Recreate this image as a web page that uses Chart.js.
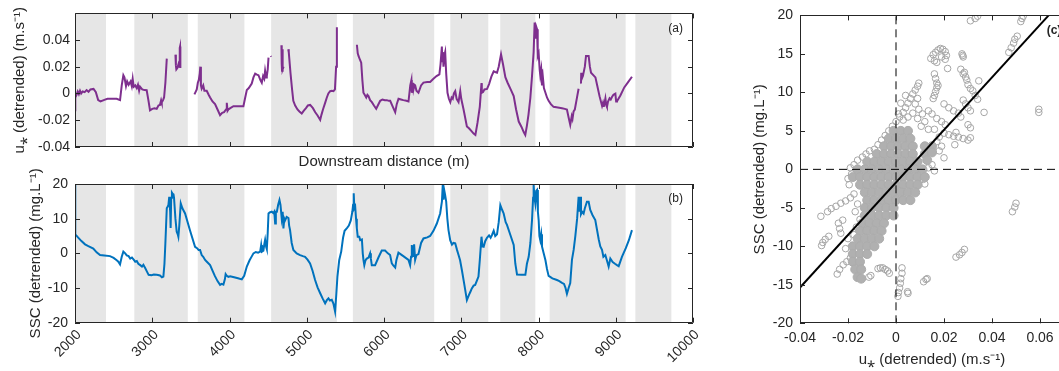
<!DOCTYPE html>
<html>
<head>
<meta charset="utf-8">
<script src="https://cdn.jsdelivr.net/npm/chart.js@4"></script>
<style>
  html, body { margin: 0; padding: 0; background: #fff; overflow: hidden; width: 1059px; height: 371px; }
  canvas { position: absolute; }
</style>
</head>
<body>
<canvas id="chartA" width="720" height="175" style="left:0;top:0"></canvas>
<canvas id="chartB" width="720" height="206" style="left:0;top:165px"></canvas>
<canvas id="chartC" width="330" height="371" style="left:740px;top:0"></canvas>
<script>
// shaded reaches along the river (m)
const bandStart = [2000, 2768, 3589, 4539, 5597, 6858, 7505, 8144, 9254];
const bandEnd   = [2401, 3460, 4193, 5390, 6650, 7350, 7959, 9128, 9720];

const distTicks = [2000, 3000, 4000, 5000, 6000, 7000, 8000, 9000, 10000];
const uTicks = [-0.04, -0.02, 0, 0.02, 0.04];
const sscTicks = [-20, -10, 0, 10, 20];
const scatXTicks = [-0.04, -0.02, 0, 0.02, 0.04, 0.06];
const scatYTicks = [-20, -15, -10, -5, 0, 5, 10, 15, 20];

// (a) u* detrended, null = gap in record
const distA = [2000,2004,2020,2035,2050,2065,2080,2100,2125,2150,2175,2200,2240,2270,2300,2330,2380,2420,2480,2540,2583,2605,2626,2640,2660,2675,2694,2720,2735,2747,2760,2780,2799,2815,2830,2842,2870,2900,2928,2950,2971,3000,3030,3058,3080,3100,3115,3123,3140,3153,3170,3188,3195,
  3300,3306,3312,3325,3340,3350,3356,3360,3364,3370,
  3546,3560,3576,3590,3602,3615,3622,3630,3640,3660,3675,3705,3730,3749,3780,3813,3845,3878,3905,3930,3955,3965,3975,3986,4010,4051,4120,4180,4200,4224,4250,4288,4310,4332,4355,4375,4400,4418,4435,4450,4461,4475,4483,4495,4505,4510,
  4535,4540,4545,
  4672,4676,4680,4686,4690,4700,4720,
  4760,4767,4790,4810,4826,4850,4880,4905,4935,4960,4990,5015,5044,5080,5110,5140,5174,5190,5210,5238,5260,5280,5303,5325,5346,5365,5380,5390,5395,
  5649,5660,5670,5690,5705,5720,5734,5750,5770,5785,5799,5820,5843,5870,5899,5920,5951,5980,6010,6037,6060,6080,6110,6145,6165,6188,6220,6250,6290,6317,6340,6355,6360,6375,6382,6395,6403,6420,6446,6480,6511,6560,6597,6640,6680,6717,6732,6749,6755,6762,6770,6780,6792,6805,6822,6840,6858,6875,6890,6905,6922,6940,6965,6987,7000,7030,7073,7100,7130,7160,7183,7210,7240,7262,7266,7282,7300,7334,7360,7390,7420,7440,7463,7485,7515,7540,7571,7600,7640,7679,7710,7744,7780,7810,7829,7850,7870,7894,7915,7937,7950,7960,7970,7981,7990,8002,8015,8023,8035,8045,8057,8070,8090,8110,8131,8160,8195,8250,8304,8340,8368,8390,8411,8430,8440,8454,8470,8495,8519,8525,
  8550,8553,8557,8575,8600,8615,8649,8665,8680,8737,8760,8790,8823,8835,8845,8866,8878,8886,8900,8920,8935,8951,8970,8995,9005,9016,9060,9110,9160,9210];
const uStar = [-0.0125,-0.003,-0.001,0.0015,-0.0005,0.002,0,0.0015,0.001,0.0025,0.0012,0.003,0.0034,0.001,-0.005,-0.006,-0.0048,-0.004,-0.004,-0.004,-0.005,0.006,0.0136,0.012,0.0055,0.009,0.0065,0.009,0.0055,0.011,0.005,0.006,0.004,0.0065,0.002,0.005,0.003,0.0025,0.0024,-0.005,-0.0126,-0.0115,-0.011,-0.0115,-0.009,-0.0085,-0.005,-0.0067,-0.005,-0.003,0.008,0.026,null,
  0.029,0.021,0.018,0.019,0.022,0.02,0.034,0.035,0.019,null,
  -0.0007,0.001,0.003,0.008,0.01,0.015,0.02,0.006,0.0035,0.006,0.002,0.002,-0.001,-0.003,-0.006,-0.008,-0.012,-0.0162,-0.0145,-0.014,-0.012,-0.007,-0.013,-0.012,-0.011,-0.0095,-0.0095,-0.0095,-0.004,0.0026,0.004,0.0074,0.012,0.0148,0.014,0.0136,0.01,0.008,0.013,0.011,0.017,0.012,0.013,0.018,0.0268,null,
  0.028,0.0275,null,
  0.036,0.022,0.017,0.033,0.018,0.02,null,
  0.033,0.031,0.015,0.003,-0.0055,-0.009,-0.012,-0.0135,-0.015,-0.013,-0.011,-0.009,-0.0086,-0.011,-0.014,-0.0165,-0.0198,-0.016,-0.012,-0.007,-0.003,0,0.0017,0.002,0.0017,0.003,0.02,0.0495,null,
  0.0364,0.03,0.028,0.025,0.023,0.01,0.0005,-0.001,-0.003,-0.001,-0.002,-0.005,-0.0065,-0.009,-0.0115,-0.009,-0.0055,-0.0045,-0.005,-0.005,-0.0055,-0.0055,-0.0095,-0.014,-0.008,-0.004,-0.0045,-0.005,-0.0055,-0.006,0.006,0.01,0.0005,0.008,0.003,0.0064,0.006,0.002,0.0005,0.006,0.0081,0.0085,0.0086,0.011,0.013,0.0143,0.022,0.035,0.024,0.031,0.02,0.028,0.031,0.015,0.0005,-0.004,-0.0065,-0.003,-0.004,0,0.0017,-0.004,-0.0065,0.0017,-0.004,-0.012,-0.0246,-0.026,-0.028,-0.03,-0.031,-0.022,-0.01,0.0077,0.0005,0.001,0.003,0.0034,0.007,0.0125,0.0165,0.016,0.0155,0.02,0.0292,0.022,0.0122,0.008,0.003,-0.002,-0.012,-0.021,-0.025,-0.029,-0.031,-0.024,-0.016,-0.0036,0.0122,0.031,0.053,0.041,0.05,0.048,0.028,0.03,0.018,0.0135,0.018,0.006,0.012,0.004,0.0005,-0.003,-0.0055,-0.008,-0.01,-0.0105,-0.011,-0.0115,-0.012,-0.018,-0.0234,-0.017,-0.019,-0.0134,-0.012,-0.004,0.0035,null,
  0.0075,0.0155,0.0105,0.013,0.02,0.028,0.028,0.02,0.0155,0.012,0.006,-0.002,-0.0094,-0.007,-0.01,-0.0036,-0.009,-0.0101,-0.006,-0.0036,-0.0045,-0.0027,-0.001,-0.0002,-0.006,-0.0058,-0.0015,0.0045,0.0085,0.0125];

// (b) SSC detrended (mg/L)
const distB = [2000,2002,2005,2030,2080,2130,2173,2237,2280,2324,2380,2453,2500,2540,2561,2583,2605,2626,2650,2670,2694,2715,2737,2760,2780,2800,2820,2845,2867,2885,2910,2930,2953,2990,3020,3058,3100,3125,3144,3158,3170,3188,3200,3209,3220,3232,3238,3245,3255,3264,3275,3282,3300,3316,3330,3338,3350,3369,3390,3425,3490,3554,3580,3600,3619,3640,3660,3684,3710,3749,3780,3810,3845,3878,3900,3921,3940,3950,3965,3985,4008,4060,4110,4159,4190,4224,4260,4290,4310,4340,4370,4397,4410,4420,4439,4450,4461,4475,4483,4495,4505,4520,4547,4569,4580,4591,4600,4613,4630,4647,4660,4676,4688,4698,4710,4720,4740,4763,4772,4784,4805,4827,4870,4913,4950,4978,5010,5043,5075,5108,5140,5174,5205,5238,5260,5281,5300,5324,5345,5367,5382,5397,5420,5446,5470,5490,5520,5545,5570,5590,5600,5608,5616,5627,5638,5648,5660,5680,5692,5714,5725,5734,5745,5760,5777,5800,5820,5830,5842,5885,5928,5971,6014,6050,6079,6101,6120,6145,6160,6187,6250,6317,6338,6350,6360,6375,6390,6403,6420,6446,6480,6511,6560,6597,6640,6684,6727,6750,6761,6770,6779,6790,6805,6820,6835,6857,6880,6900,6922,6945,6965,6985,7008,7040,7073,7100,7120,7137,7160,7180,7200,7223,7240,7262,7275,7290,7310,7333,7360,7380,7398,7420,7440,7463,7485,7506,7530,7549,7575,7592,7636,7679,7700,7722,7780,7830,7850,7873,7895,7916,7930,7937,7948,7959,7970,7981,7992,8002,8012,8023,8035,8045,8067,8090,8110,8131,8180,8239,8270,8304,8330,8350,8368,8390,8411,8433,8455,8476,8500,8519,8530,8541,8550,8565,8584,8600,8627,8649,8670,8700,8735,8780,8800,8822,8840,8865,8885,8908,8930,8960,8990,9016,9038,9080,9130,9170,9210];
const ssc = [20,12,5.5,4.8,3.6,2.6,2.1,1.4,0.3,-0.5,-0.6,-0.8,-1.3,-2,-2.4,-3.2,-1,0.5,0,-0.6,-0.8,-1.5,-1.2,-1.8,-2.4,-2.2,-3,-3.4,-3.8,-3.3,-4.3,-5.2,-6.2,-6.3,-6.1,-6.2,-6.4,-6.9,-6.7,-3,3,13,13.5,13.9,16.3,12,7.3,16,17.5,17.2,17,16,10,6.3,5.5,4.8,8,14.4,13,11.5,6.5,1.9,1.5,1,1,-0.5,-1,-1.9,-2.5,-3.4,-5,-6.5,-8,-9.1,-8.8,-9,-7.5,-6,-6.5,-6.8,-6.6,-6.9,-7.2,-7.5,-6.5,-3.8,-2,-0.8,0,0.4,0.2,0.5,2.4,0.5,0.8,2.6,3.9,1.8,1.2,6,11.5,11.8,12,11.6,12,8.6,12,12,14,15.4,14,10.1,12,7.2,10,9.5,10.5,10.2,8,6.7,3,1,0,-0.5,-0.8,-1,-1.8,-2.9,-5,-7.7,-9.8,-11.5,-13,-14.4,-13.5,-13,-13.6,-13.4,-14.5,-16.8,-12,-6.7,-2,0.5,4.5,6.5,7.3,8,9.5,12,14,17.3,13,13.5,10,7.3,4.8,4.8,3.8,4,0,-1.9,-3.4,-2,-1.5,-1.2,0,-1.5,-3.4,-3.4,-1.2,0.8,0.8,0,-0.5,-2.9,-3.5,-4.1,-2,0.2,-0.8,-1.9,-3.4,-1,2.4,-1,2.6,-1.9,-0.5,-0.2,3,4.3,4.6,5,6.5,8.6,11.5,15,20,15.5,18.3,17,14.9,10,6.7,3.8,2.5,3,2.9,1,-0.5,-2,-4.8,-9,-13.5,-12,-11,-10.1,-9.3,-9.1,-8,-6.7,-2,4.8,2,1.9,3.5,4.5,5.2,4.5,5.3,6.5,5,5.5,9,13.9,12.5,11.5,9,8.2,5.3,2.4,-3,-6.1,-6.2,-6.2,-3,-1,3,9.6,16,19.7,16,14.4,18,18.3,12,9.6,5,3.8,5.5,2,0,-2,-4.5,-6.5,-7.2,-7.7,-8,-8.5,-8.8,-10,-11.7,-10,-8.6,-1.9,1,4.8,10,16.3,12,16.3,11.3,12,11.5,13,14.9,14.9,12.5,11,9.6,4,2,1,-1,-0.5,-2,-3.8,-1.5,-2.5,-3,-3.4,-3.7,-1,1.5,3.8,6.7];

// (c) u* vs SSC: open markers, plus the saturated core of overlapping markers
const ringPts = [
  [0.031,19.3],[0.033,19.6],[0.034,19.9],[0.052,19.2],[0.0525,19.6],[0.053,19.9],
  [0.047,15.2],[0.048,15.8],[0.049,16.4],[0.0495,16.9],[0.0505,17.3],[0.0595,7.4],[0.0595,7.8],
  [0.0145,14.4],[0.0155,14.9],[0.0165,15.2],[0.0175,15.5],[0.0185,15.7],[0.0195,15.6],[0.0205,15.3],[0.021,14.8],[0.0205,14.3],[0.019,14.6],[0.017,13.9],[0.016,14.1],[0.0215,13.1],
  [0.0275,15],[0.0278,14.8],[0.028,14.6],
  [0.027,13],[0.028,12.4],[0.029,12],[0.0295,11.6],[0.03,11],[0.031,10.5],[0.032,10.2],[0.0285,12.6],[0.0345,11.5],
  [0.016,12.4],[0.0165,11.8],[0.017,11.2],[0.017,10.6],[0.0165,10.1],[0.016,9.6],[0.0155,9.2],[0.0175,10.9],
  [-0.009,2.6],[-0.0075,3.2],[-0.006,3.8],[-0.0045,4.4],[-0.003,5],[-0.0015,5.6],[0,6.2],[0.0015,6.8],[0.003,7.4],[0.004,8],[0.005,8.6],[0.006,9.2],[0.007,9.8],[0.008,10.3],[0.009,10.8],[0.0095,11.2],
  [0.008,8.5],[0.009,9.2],[0.0095,7.8],[0.002,8.6],[0.004,9.6],
  [0.001,7.2],[0.003,6.4],[0.005,6.8],[0.007,7.3],[0.009,6.6],[0.011,7.2],[0.012,6.2],[0.0135,7.6],[0.015,7.2],[0.017,6.6],[0.019,6.2],[0.0205,5.8],[0.0105,5.6],[0.0135,5.2],[0.016,5.2],[0.018,4.2],
  [0.028,9],[0.029,8.5],[0.03,8],[0.031,7.6],[0.033,9.6],[0.034,9.1],[0.0367,7.4],[0.02,8.5],[0.022,8],[0.024,7.6],[0.026,7.3],[0.027,6.8],
  [0.02,4.7],[0.022,4.5],[0.024,4.3],[0.026,4.2],[0.028,4],[0.03,3.8],[0.031,4.1],[0.025,4.8],[0.0245,3.2],
  [0.03,5.8],[0.031,5.4],[0.02,1.5],[0.018,2.4],[0.017,3.6],[0.019,3],
  [-0.019,0.2],[-0.0175,0.6],[-0.016,1.2],[-0.014,1.6],[-0.0125,2],[-0.011,2.4],[-0.0185,-0.6],[-0.02,-1.2],[-0.0195,-2],
  [-0.0313,-6.1],[-0.031,-9.9],[-0.0305,-9.5],[-0.0295,-9.1],[-0.028,-8.7],
  [-0.0285,-5.5],[-0.027,-5.1],[-0.025,-4.8],[-0.023,-4.4],[-0.021,-4.1],[-0.019,-3.7],[-0.0175,-3.2],
  [-0.024,-7],[-0.0235,-7.7],[-0.023,-8.3],[-0.0222,-6.6],
  [-0.0245,-13.6],[-0.0235,-13],[-0.022,-12.4],[-0.0205,-12],[-0.019,-11.5],[-0.021,-10.3],
  [-0.0145,-14.2],[-0.0113,-14],[-0.0105,-13.8],
  [-0.0075,-12.9],[-0.0065,-12.8],[-0.0055,-12.8],[-0.0045,-13],[-0.0035,-13.2],[-0.0028,-13.5],
  [0.0025,-12.8],[0.0025,-13.5],[0.002,-14.2],[0.0018,-14.8],[0.0015,-15.4],[0.001,-16],[0.0008,-16.5],
  [0.0048,-15.9],[0.005,-16.1],[0.0115,-14.6],[0.0125,-14.3],[0.013,-14.2],
  [0.025,-11.4],[0.0265,-11.1],[0.0275,-10.8],[0.0285,-10.4],
  [0.0485,-5.5],[0.0495,-4.9],[0.05,-4.4],
  [0.0114,-1.3],[0.012,-1.9],[0.0135,0.2],[0.015,0.6],[0.016,-0.2],
  [-0.016,-4.5],[-0.017,-5.5],[-0.015,-6.5],[-0.0165,-7.5],[-0.0175,-8.5],[-0.02,-9],[-0.0165,-12.8]
];
const corePts = [
  [-0.001,5],[0.002,5],[0.005,5],
  [-0.003,4],[0,4],[0.003,4],[0.006,4],
  [-0.005,3],[-0.002,3],[0.001,3],[0.004,3],[0.007,3],[0.012,3],[0.015,3],
  [-0.008,2],[-0.005,2],[-0.002,2],[0.001,2],[0.004,2],[0.007,2],[0.012,2],[0.015,2.2],
  [-0.012,1],[-0.009,1],[-0.006,1],[-0.003,1],[0,1],[0.003,1],[0.006,1],[0.009,1],[0.013,1.2],
  [-0.016,0],[-0.013,0],[-0.01,0],[-0.007,0],[-0.004,0],[-0.001,0],[0.002,0],[0.005,0],[0.008,0],[0.011,0],
  [-0.018,-1],[-0.015,-1],[-0.012,-1],[-0.009,-1],[-0.006,-1],[-0.003,-1],[0,-1],[0.003,-1],[0.006,-1],[0.009,-1],[0.012,-1],
  [-0.015,-2],[-0.012,-2],[-0.009,-2],[-0.006,-2],[-0.003,-2],[0,-2],[0.003,-2],[0.006,-2],[0.009,-2],
  [-0.013,-3],[-0.01,-3],[-0.007,-3],[-0.004,-3],[-0.001,-3],[0.002,-3],[0.005,-3],[0.008,-3],
  [-0.012,-4],[-0.009,-4],[-0.006,-4],[-0.003,-4],[0,-4],[0.003,-4],[0.006,-4],
  [-0.013,-5],[-0.01,-5],[-0.007,-5],[-0.004,-5],[-0.001,-5],
  [-0.013,-6],[-0.01,-6],[-0.007,-6],[-0.004,-6],[-0.001,-6],
  [-0.014,-7],[-0.011,-7],[-0.008,-7],[-0.005,-7],
  [-0.015,-8],[-0.012,-8],[-0.009,-8],[-0.006,-8],
  [-0.016,-9],[-0.013,-9],[-0.01,-9],[-0.007,-9],
  [-0.018,-10],[-0.015,-10],[-0.012,-10],[-0.009,-10],
  [-0.018,-11],[-0.015,-11],[-0.012,-11],
  [-0.018,-12],[-0.015,-12],
  [-0.017,-13],[-0.0145,-13],
  [-0.016,-14],[-0.0145,-14.2]
];
// least-squares fit line end points
const fitX = [-0.04, 0.0636];
const fitY = [-15.35, 20];

const AXIS = '#262626';
const FONT = '"Liberation Sans", Arial, Helvetica, sans-serif';
Chart.defaults.font.family = FONT;
Chart.defaults.color = AXIS;

const toXY = (xs, ys) => xs.map((x, i) => ({ x: x, y: ys[i] }));
const setTicks = vals => scale => { scale.ticks = vals.map(v => ({ value: v })); };
const fmt2 = v => (v === 0 ? '0' : v.toFixed(2));
const plain = v => String(v);

// shaded bands behind the lines
const bandPlugin = {
  id: 'bands',
  beforeDatasetsDraw(chart, args, opts) {
    if (!opts.on) return;
    const { ctx, chartArea: a, scales: { x } } = chart;
    ctx.save();
    ctx.fillStyle = '#e6e6e6';
    bandStart.forEach((s, i) => {
      const x0 = Math.max(a.left, x.getPixelForValue(s));
      const x1 = Math.min(a.right, x.getPixelForValue(bandEnd[i]));
      ctx.fillRect(x0, a.top, x1 - x0, a.height);
    });
    ctx.restore();
  }
};

// matlab style box with inward ticks, plus the panel letter
const boxPlugin = {
  id: 'box',
  afterDatasetsDraw(chart, args, opts) {
    const { ctx, chartArea: a, scales: { x, y } } = chart;
    ctx.save();
    ctx.strokeStyle = AXIS;
    ctx.lineWidth = 1;
    ctx.beginPath();
    x.ticks.forEach(t => {
      const px = Math.round(x.getPixelForValue(t.value)) + 0.5;
      ctx.moveTo(px, a.bottom); ctx.lineTo(px, a.bottom - 5);
      ctx.moveTo(px, a.top); ctx.lineTo(px, a.top + 5);
    });
    y.ticks.forEach(t => {
      const py = Math.round(y.getPixelForValue(t.value)) + 0.5;
      ctx.moveTo(a.left, py); ctx.lineTo(a.left + 5, py);
      ctx.moveTo(a.right, py); ctx.lineTo(a.right - 5, py);
    });
    ctx.rect(Math.round(a.left) + 0.5, Math.round(a.top) + 0.5, Math.round(a.width) - 1, Math.round(a.height) - 1);
    ctx.stroke();
    if (opts.label) {
      ctx.fillStyle = AXIS;
      ctx.font = (opts.bold ? 'bold ' : '') + '12px ' + FONT;
      ctx.textBaseline = 'middle';
      ctx.fillText(opts.label, a.right - opts.dx, a.top + opts.dy);
    }
    ctx.restore();
  }
};

Chart.register(bandPlugin, boxPlugin);

const tickFont = { size: 14 };
const titleFont = { size: 15 };

// (a)
new Chart(document.getElementById('chartA'), {
  type: 'line',
  data: {
    datasets: [{
      data: toXY(distA, uStar),
      borderColor: 'rgb(126,47,142)', borderWidth: 2, pointRadius: 0, spanGaps: false, tension: 0
    }]
  },
  options: {
    responsive: false, animation: false,
    layout: { padding: { top: 7.5, right: 27, left: 0, bottom: 0 } },
    plugins: { legend: { display: false }, tooltip: { enabled: false },
      bands: { on: true }, box: { label: '(a)', dx: 24.7, dy: 15 } },
    scales: {
      x: {
        type: 'linear', min: 2000, max: 10000,
        afterBuildTicks: setTicks(distTicks),
        afterFit: s => { s.height = 28; },
        grid: { display: false, drawTicks: false }, border: { display: false },
        ticks: { display: false },
        title: { display: true, text: 'Downstream distance (m)', font: titleFont, padding: { top: 0, bottom: 4 } }
      },
      y: {
        min: -0.04, max: 0.0598,
        afterBuildTicks: setTicks(uTicks),
        afterFit: s => { s.width = 75; },
        grid: { display: false, drawTicks: false }, border: { display: false },
        ticks: { font: tickFont, padding: 5, callback: fmt2 },
        title: { display: true, text: 'u⁎ (detrended) (m.s⁻¹)', font: titleFont, padding: { top: 11, bottom: 0 } }
      }
    }
  }
});

// (b)
new Chart(document.getElementById('chartB'), {
  type: 'line',
  data: {
    datasets: [{
      data: toXY(distB, ssc),
      borderColor: 'rgb(0,114,189)', borderWidth: 2, pointRadius: 0, tension: 0
    }]
  },
  options: {
    responsive: false, animation: false,
    layout: { padding: { top: 19, right: 27, left: 0, bottom: 0 } },
    plugins: { legend: { display: false }, tooltip: { enabled: false },
      bands: { on: true }, box: { label: '(b)', dx: 24.7, dy: 14.3 } },
    scales: {
      x: {
        type: 'linear', min: 2000, max: 10000,
        afterBuildTicks: setTicks(distTicks),
        afterFit: s => { s.height = 48.3; },
        grid: { display: false, drawTicks: false }, border: { display: false },
        ticks: { font: tickFont, padding: 4, labelOffset: 4, autoSkip: false, minRotation: 45, maxRotation: 45, callback: plain }
      },
      y: {
        min: -20, max: 20,
        afterBuildTicks: setTicks(sscTicks),
        afterFit: s => { s.width = 75; },
        grid: { display: false, drawTicks: false }, border: { display: false },
        ticks: { font: tickFont, padding: 7, callback: plain },
        title: { display: true, text: 'SSC (detrended) (mg.L⁻¹)', font: titleFont, padding: { top: 27, bottom: 0 } }
      }
    }
  }
});

// (c)
new Chart(document.getElementById('chartC'), {
  type: 'scatter',
  data: {
    datasets: [
      { type: 'line', data: toXY(fitX, fitY), borderColor: '#000', borderWidth: 2, pointRadius: 0, order: 0 },
      { type: 'line', data: [{ x: 0, y: -20 }, { x: 0, y: 20 }], borderColor: '#000', borderWidth: 1, borderDash: [8, 5], pointRadius: 0, order: 1 },
      { type: 'line', data: [{ x: -0.04, y: 0 }, { x: 0.07, y: 0 }], borderColor: '#000', borderWidth: 1, borderDash: [8, 5], pointRadius: 0, order: 1 },
      { data: ringPts.map(p => ({ x: p[0], y: p[1] })), pointRadius: 3.3, borderWidth: 1,
        borderColor: '#a6a6a6', backgroundColor: 'rgba(0,0,0,0)', order: 3 },
      { data: corePts.map(p => ({ x: p[0], y: p[1] })), pointRadius: 4.5, borderWidth: 1,
        borderColor: '#acacac', backgroundColor: '#b0b0b0', order: 2 }
    ]
  },
  options: {
    responsive: false, animation: false,
    layout: { padding: { top: 7.5, right: 6, left: 0, bottom: 0 } },
    plugins: { legend: { display: false }, tooltip: { enabled: false },
      bands: { on: false }, box: { label: '(c)', dx: 17.3, dy: 15, bold: true } },
    scales: {
      x: {
        type: 'linear', min: -0.04, max: 0.07,
        afterBuildTicks: setTicks(scatXTicks),
        afterFit: s => { s.height = 47.7; },
        grid: { display: false, drawTicks: false }, border: { display: false },
        ticks: { font: tickFont, padding: 6, callback: fmt2, autoSkip: false, maxRotation: 0 },
        title: { display: true, text: 'u⁎ (detrended) (m.s⁻¹)', font: titleFont, padding: { top: 0, bottom: 2 } }
      },
      y: {
        min: -20, max: 20,
        afterBuildTicks: setTicks(scatYTicks),
        afterFit: s => { s.width = 60; },
        grid: { display: false, drawTicks: false }, border: { display: false },
        ticks: { font: tickFont, padding: 7, callback: plain },
        title: { display: true, text: 'SSC (detrended) (mg.L⁻¹)', font: titleFont, padding: { top: 11, bottom: 0 } }
      }
    }
  }
});
</script>
</body>
</html>
